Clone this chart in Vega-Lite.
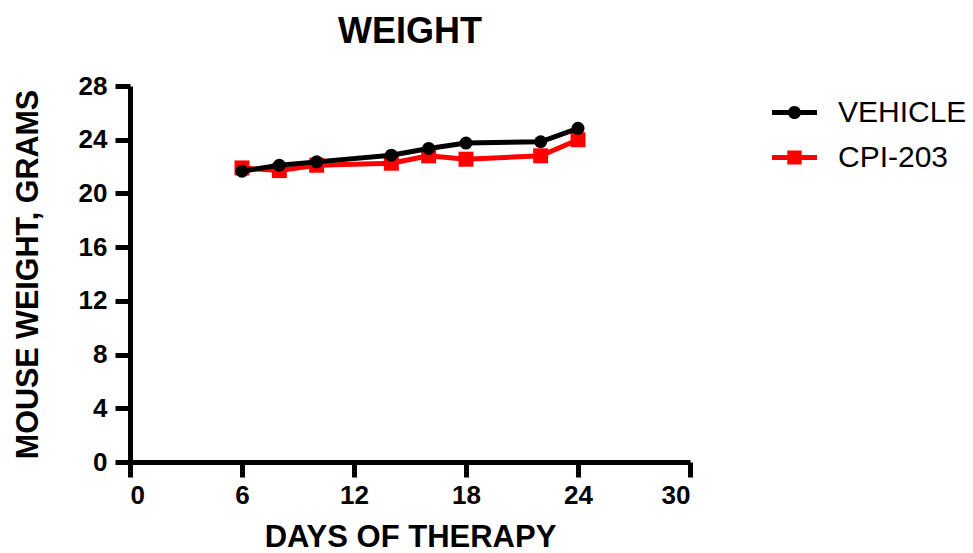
{
  "$schema": "https://vega.github.io/schema/vega-lite/v6.json",
  "width": 560,
  "height": 376,
  "autosize": {"type": "none"},
  "padding": {"left": 130, "top": 86, "right": 283, "bottom": 91},
  "background": "white",
  "title": {
    "text": "WEIGHT",
    "font": "Liberation Sans",
    "fontSize": 36,
    "fontWeight": "bold",
    "color": "black",
    "anchor": "middle",
    "baseline": "alphabetic",
    "offset": -6
  },
  "config": {
    "view": {"stroke": null},
    "axis": {
      "grid": false,
      "domainColor": "black",
      "domainWidth": 5,
      "tickColor": "black",
      "tickWidth": 5,
      "tickSize": 15,
      "labelFont": "Liberation Sans",
      "labelFontSize": 26,
      "labelFontWeight": "bold",
      "labelColor": "black",
      "titleFont": "Liberation Sans",
      "titleFontWeight": "bold",
      "titleColor": "black"
    }
  },
  "data": {
    "values": [
      {"group": "CPI-203", "day": 6, "weight": 21.9},
      {"group": "CPI-203", "day": 8, "weight": 21.7},
      {"group": "CPI-203", "day": 10, "weight": 22.1},
      {"group": "CPI-203", "day": 14, "weight": 22.25},
      {"group": "CPI-203", "day": 16, "weight": 22.8},
      {"group": "CPI-203", "day": 18, "weight": 22.55},
      {"group": "CPI-203", "day": 22, "weight": 22.8},
      {"group": "CPI-203", "day": 24, "weight": 24.0},
      {"group": "VEHICLE", "day": 6, "weight": 21.65},
      {"group": "VEHICLE", "day": 8, "weight": 22.1},
      {"group": "VEHICLE", "day": 10, "weight": 22.35},
      {"group": "VEHICLE", "day": 14, "weight": 22.85},
      {"group": "VEHICLE", "day": 16, "weight": 23.35},
      {"group": "VEHICLE", "day": 18, "weight": 23.75},
      {"group": "VEHICLE", "day": 22, "weight": 23.85},
      {"group": "VEHICLE", "day": 24, "weight": 24.85}
    ]
  },
  "encoding": {
    "x": {
      "field": "day",
      "type": "quantitative",
      "scale": {"domain": [0, 30], "nice": false, "zero": false},
      "axis": {
        "values": [0, 6, 12, 18, 24, 30],
        "title": "DAYS OF THERAPY",
        "titleFontSize": 31,
        "labelPadding": 5,
        "titleBaseline": "alphabetic",
        "titleY": 84
      }
    },
    "y": {
      "field": "weight",
      "type": "quantitative",
      "scale": {"domain": [0, 28], "nice": false},
      "axis": {
        "values": [0, 4, 8, 12, 16, 20, 24, 28],
        "title": "MOUSE WEIGHT, GRAMS",
        "titleFontSize": 30.5,
        "labelPadding": 8,
        "titleBaseline": "middle",
        "titleX": -102,
        "titleY": 188,
        "titleAngle": 270
      }
    },
    "color": {
      "field": "group",
      "type": "nominal",
      "scale": {"domain": ["VEHICLE", "CPI-203"], "range": ["#000000", "#FF0000"]},
      "legend": {
        "title": null,
        "orient": "none",
        "legendX": 642,
        "legendY": 4,
        "padding": 0,
        "rowPadding": 7,
        "symbolSize": 2025,
        "labelOffset": 21,
        "labelFont": "Liberation Sans",
        "labelFontSize": 30,
        "labelColor": "black",
        "labelLimit": 300,
        "encode": {
          "symbols": {
            "update": {
              "shape": {"signal": "datum.value === 'VEHICLE' ? 'M-1,-0.11H1V0.11H-1Z M-0.29,0A0.29,0.29 0 1,1 0.29,0A0.29,0.29 0 1,1 -0.29,0Z' : 'M-1,-0.11H1V0.11H-1Z M-0.32,-0.31H0.32V0.31H-0.32Z'"},
              "fill": {"signal": "datum.value === 'VEHICLE' ? '#000000' : '#FF0000'"},
              "stroke": {"value": "transparent"},
              "strokeWidth": {"value": 0},
              "opacity": {"value": 1},
              "fillOpacity": {"value": 1}
            }
          }
        }
      }
    }
  },
  "layer": [
    {
      "transform": [{"filter": "datum.group === 'CPI-203'"}],
      "mark": {"type": "line", "strokeWidth": 5}
    },
    {
      "transform": [{"filter": "datum.group === 'CPI-203'"}],
      "mark": {"type": "point", "shape": "square", "filled": true, "size": 225, "opacity": 1}
    },
    {
      "transform": [{"filter": "datum.group === 'VEHICLE'"}],
      "mark": {"type": "line", "strokeWidth": 5}
    },
    {
      "transform": [{"filter": "datum.group === 'VEHICLE'"}],
      "mark": {"type": "point", "shape": "circle", "filled": true, "size": 169, "opacity": 1}
    }
  ]
}
